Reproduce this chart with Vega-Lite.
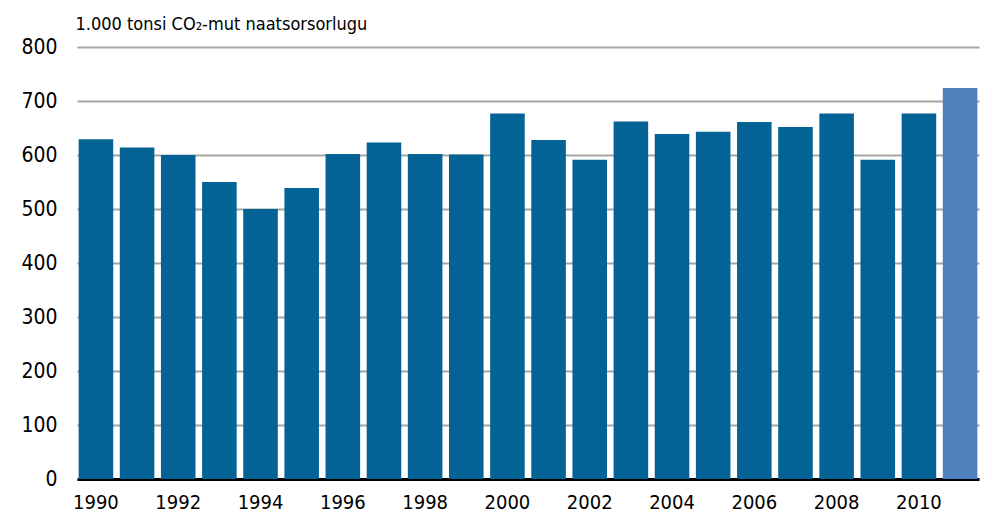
{
  "$schema": "https://vega.github.io/schema/vega-lite/v6.json",
  "width": 902,
  "height": 432,
  "autosize": {"type": "none"},
  "padding": {"left": 77, "top": 47, "right": 24, "bottom": 36},
  "background": "white",
  "data": {
    "values": [
      {"year": 1990, "value": 629, "kind": "a"},
      {"year": 1991, "value": 614, "kind": "a"},
      {"year": 1992, "value": 600, "kind": "a"},
      {"year": 1993, "value": 550, "kind": "a"},
      {"year": 1994, "value": 500, "kind": "a"},
      {"year": 1995, "value": 539, "kind": "a"},
      {"year": 1996, "value": 602, "kind": "a"},
      {"year": 1997, "value": 623, "kind": "a"},
      {"year": 1998, "value": 602, "kind": "a"},
      {"year": 1999, "value": 601, "kind": "a"},
      {"year": 2000, "value": 677, "kind": "a"},
      {"year": 2001, "value": 628, "kind": "a"},
      {"year": 2002, "value": 591, "kind": "a"},
      {"year": 2003, "value": 662, "kind": "a"},
      {"year": 2004, "value": 639, "kind": "a"},
      {"year": 2005, "value": 643, "kind": "a"},
      {"year": 2006, "value": 661, "kind": "a"},
      {"year": 2007, "value": 652, "kind": "a"},
      {"year": 2008, "value": 677, "kind": "a"},
      {"year": 2009, "value": 591, "kind": "a"},
      {"year": 2010, "value": 677, "kind": "a"},
      {"year": 2011, "value": 724, "kind": "b"}
    ]
  },
  "mark": {"type": "bar"},
  "encoding": {
    "x": {
      "field": "year",
      "type": "ordinal",
      "scale": {"paddingInner": 0.16, "paddingOuter": 0.04},
      "axis": {
        "title": null,
        "labelAngle": 0,
        "labelExpr": "datum.value % 2 == 0 ? datum.label : ''",
        "ticks": false,
        "domainColor": "#000000",
        "domainWidth": 3,
        "labelFont": "'DejaVu Sans Condensed', Roboto",
        "labelFontSize": 20,
        "labelColor": "#000000",
        "labelPadding": 13
      }
    },
    "y": {
      "field": "value",
      "type": "quantitative",
      "scale": {"domain": [0, 800]},
      "axis": {
        "values": [0, 100, 200, 300, 400, 500, 600, 700, 800],
        "domain": false,
        "ticks": false,
        "gridColor": "#a6a6a6",
        "gridWidth": 2,
        "labelFont": "'DejaVu Sans Condensed', Roboto",
        "labelFontSize": 21,
        "labelColor": "#000000",
        "labelPadding": 20,
        "title": "1.000 tonsi CO₂-mut naatsorsorlugu",
        "titleAngle": 0,
        "titleAlign": "left",
        "titleBaseline": "alphabetic",
        "titleX": -2,
        "titleY": -18,
        "titleFont": "'DejaVu Sans Condensed', Roboto",
        "titleFontSize": 18,
        "titleFontWeight": "normal",
        "titleColor": "#000000"
      }
    },
    "color": {
      "field": "kind",
      "type": "nominal",
      "scale": {"domain": ["a", "b"], "range": ["#026394", "#4f81bd"]},
      "legend": null
    }
  },
  "config": {"view": {"stroke": null}}
}
